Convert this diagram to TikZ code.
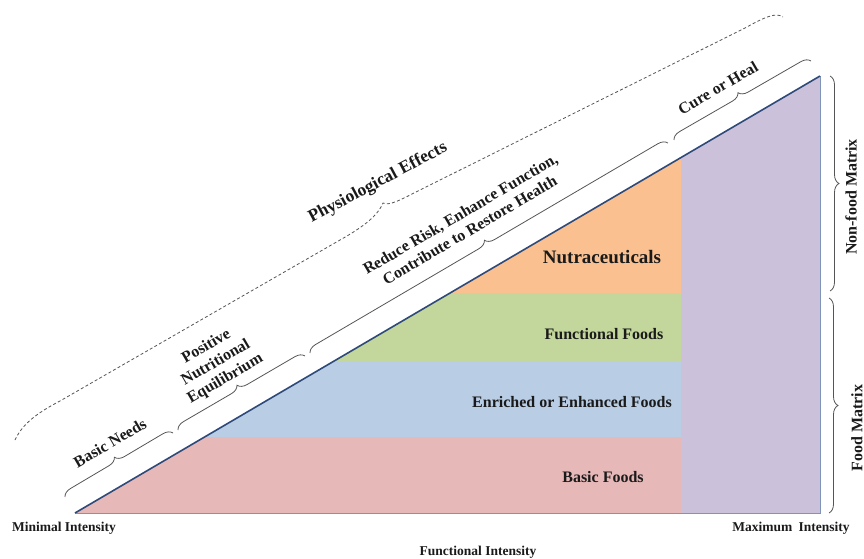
\documentclass[tikz,border=0pt]{standalone}
\usepackage{fontspec}
\setmainfont{Liberation Serif}
\usetikzlibrary{decorations.pathreplacing}
\definecolor{cpink}{HTML}{E6B9B8}
\definecolor{cblue}{HTML}{B9CDE5}
\definecolor{cgreen}{HTML}{C3D69B}
\definecolor{corange}{HTML}{FAC090}
\definecolor{cpurple}{HTML}{CCC1DA}
\definecolor{chyp}{HTML}{2E4A7A}
\definecolor{cedge}{HTML}{8094B8}
\definecolor{ctext}{HTML}{1A1A1A}
\definecolor{cbrace}{HTML}{555555}
\tikzset{
  lbl/.style={inner sep=0pt, text=ctext, font=\bfseries\fontsize{16}{18.7}\selectfont},
  biglbl/.style={inner sep=0pt, text=ctext, font=\bfseries\fontsize{19}{22}\selectfont},
  axlbl/.style={inner sep=0pt, text=ctext, font=\bfseries\fontsize{13.5}{16}\selectfont},
  slope/.style={lbl, rotate=30.4, align=center},
  bracepath/.style={draw=cbrace, line width=0.8pt, decorate, decoration={brace, amplitude=9pt}},
  dashcurve/.style={draw=cbrace, line width=0.8pt, dash pattern=on 3pt off 2.3pt}
}
\begin{document}
\begin{tikzpicture}[x=1pt,y=-1pt]
\useasboundingbox (0,0) rectangle (864,559);
% triangle vertices
\coordinate (A) at (75,513);
\coordinate (B) at (820,76);
\coordinate (C) at (820,513);
% bands
\begin{scope}
  \clip (A) -- (B) -- (C) -- cycle;
  \fill[cpink]   (0,437) rectangle (681,514);
  \fill[cblue]   (0,362) rectangle (681,437);
  \fill[cgreen]  (0,293) rectangle (681,362);
  \fill[corange] (0,0)   rectangle (681,293);
  \fill[cpurple] (681,0) rectangle (821,514);
\end{scope}
\draw[cedge, line width=1pt] (A) -- (C) -- (B);
\draw[chyp, line width=1.6pt] (A) -- (B);
% band labels
\node[biglbl] (nutra) at (602,257) {Nutraceuticals};
\node[lbl] (func) at (604,334) {Functional Foods};
\node[lbl] (enr) at (572,402) {Enriched or Enhanced Foods};
\node[lbl] (basicf) at (603,477) {Basic Foods};
% braces along hypotenuse
\coordinate (b1s) at (65,497);
\coordinate (b1e) at (173,433);
\coordinate (b2s) at (178,430);
\coordinate (b2e) at (305,356);
\coordinate (b3s) at (310,353);
\coordinate (b3e) at (668,143);
\coordinate (b4s) at (674,140);
\coordinate (b4e) at (811,61);
\draw[bracepath] (b1s) -- (b1e);
\draw[bracepath] (b2s) -- (b2e);
\draw[bracepath] (b3s) -- (b3e);
\draw[bracepath] (b4s) -- (b4e);
\node[slope] (needs) at (110,443) {Basic Needs};
\node[slope] (pne) at (216,363) {Positive\\Nutritional\\Equilibrium};
\node[slope] (reduce) at (465,222) {Reduce Risk, Enhance Function,\\Contribute to Restore Health};
\node[slope] (cure) at (718,88) {Cure or Heal};
% dashed physiological effects curve
\coordinate (d0) at (15,440);
\coordinate (d1) at (783,17);
\draw[dashcurve] (d0) .. controls (22,425) and (35,414) .. (60,401)
  -- (340,240) .. controls (365,226) and (378,215) .. (383,203)
  .. controls (390,206) and (400,200) .. (420,190)
  -- (745,28) .. controls (765,17) and (776,12) .. (d1);
\node[lbl, rotate=28, font=\bfseries\fontsize{17.5}{20}\selectfont] (physio) at (378,183) {Physiological Effects};
% right braces
\coordinate (r1s) at (830,76);
\coordinate (r1e) at (830,291);
\coordinate (r2s) at (829,298);
\coordinate (r2e) at (829,513);
\draw[bracepath] (r1s) -- (r1e);
\draw[bracepath] (r2s) -- (r2e);
\node[lbl, rotate=90] (nonfood) at (851,197) {Non-food Matrix};
\node[lbl, rotate=90] (food) at (857,428) {Food Matrix};
% axis labels
\node[axlbl] (minI) at (64,528) {Minimal Intensity};
\node[axlbl] (maxI) at (791,528) {Maximum\hspace{0.45em}Intensity};
\node[axlbl] (funcI) at (478,552) {Functional Intensity};
\end{tikzpicture}
\end{document}
